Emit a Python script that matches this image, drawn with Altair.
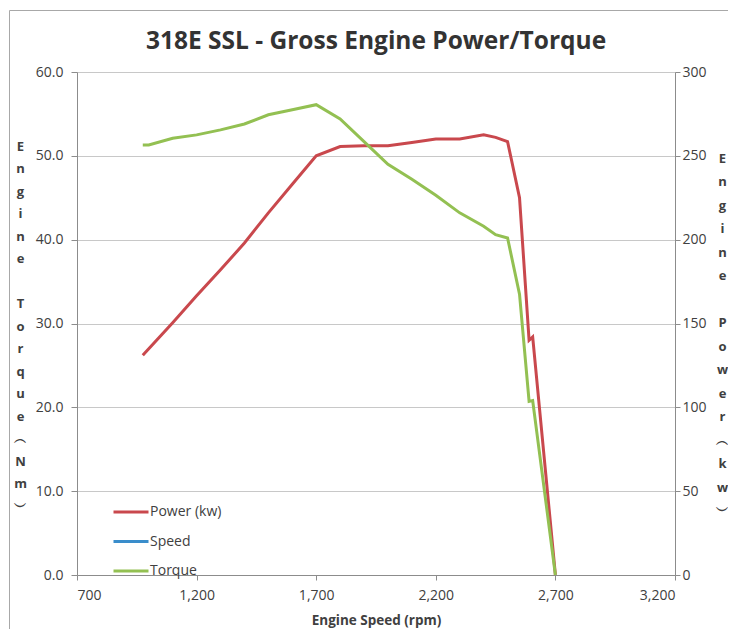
import altair as alt
import pandas as pd

# ---- data ----
power_rpm = [975, 1100, 1200, 1300, 1400, 1500, 1600, 1700, 1800, 1900, 2000,
             2100, 2200, 2300, 2400, 2450, 2500, 2550, 2590, 2605, 2700]
power_kw = [131.0, 150.5, 166.5, 182.0, 198.0, 216.0, 233.0, 250.0, 255.5, 256.0, 256.0,
            258.0, 260.0, 260.0, 262.5, 261.0, 258.5, 225.0, 140.0, 142.0, 0.0]

torque_rpm = [975, 1000, 1100, 1200, 1300, 1400, 1500, 1600, 1700, 1800, 1900, 2000,
              2100, 2200, 2300, 2400, 2450, 2500, 2550, 2590, 2605, 2700]
torque_nm = [51.3, 51.3, 52.1, 52.5, 53.1, 53.8, 54.9, 55.5, 56.1, 54.4, 51.7, 49.0,
             47.2, 45.3, 43.2, 41.6, 40.6, 40.2, 33.5, 20.7, 20.8, 0.0]

series_names = ["Power (kw)", "Speed", "Torque"]
series_colors = ["#C9484D", "#3A8DCB", "#93C052"]

x_ticks = [700, 1200, 1700, 2200, 2700, 3200]
left_ticks = [0, 10, 20, 30, 40, 50, 60]
right_ticks = [0, 50, 100, 150, 200, 250, 300]

BL = "\u2800"
left_title = ["E", "n", "g", "i", "n", "e", BL, "T", "o", "r", "q", "u", "e", "︵", "N", "m", "︶"]
right_title = ["E", "n", "g", "i", "n", "e", BL, "P", "o", "w", "e", "r", "︵", "k", "w", "︶"]

power_df = pd.DataFrame({"rpm": power_rpm, "value": power_kw, "series": series_names[0]})
torque_df = pd.DataFrame({"rpm": torque_rpm, "value": torque_nm, "series": series_names[2]})
frame_df = pd.DataFrame({"frame": [0]})

FONT = "Open Sans"
TXT = "#404040"
AXC = "#8c8c8c"

color = alt.Color(
    "series:N",
    scale=alt.Scale(domain=series_names, range=series_colors),
    legend=alt.Legend(
        title=None, orient="none", legendX=35, legendY=421,
        symbolType="stroke", symbolSize=1225, symbolStrokeWidth=3,
        labelFont=FONT, labelFontSize=14, labelColor=TXT, labelOffset=0,
        rowPadding=3.5, symbolOffset=0,
    ),
)

x = alt.X(
    "rpm:Q",
    scale=alt.Scale(domain=[700, 3200], nice=False, zero=False),
    axis=alt.Axis(
        values=x_ticks, format=",d", title="Engine Speed (rpm)", grid=False,
        labelFont=FONT, labelFontSize=14, labelColor=TXT, labelPadding=8,
        titleFont=FONT, titleFontSize=13.5, titleFontWeight="bold", titleColor=TXT, titlePadding=11,
        domainColor=AXC, tickColor=AXC, tickSize=5,
    ),
)

power = alt.Chart(power_df).mark_line(strokeWidth=3).encode(
    x=x,
    y=alt.Y(
        "value:Q",
        scale=alt.Scale(domain=[0, 300], nice=False),
        axis=alt.Axis(
            orient="right", values=right_ticks, format="d", grid=False,
            title=right_title, titleAngle=0, titleAlign="center", titleBaseline="top",
            titleX=47, titleY=80, titleLineHeight=23.5, titleFont=FONT, titleFontSize=13,
            titleFontWeight="bold", titleColor=TXT,
            labelFont=FONT, labelFontSize=14, labelColor=TXT, labelPadding=2,
            domainColor=AXC, tickColor=AXC, tickSize=5,
        ),
    ),
    color=color,
)

torque = alt.Chart(torque_df).mark_line(strokeWidth=3).encode(
    x=x,
    y=alt.Y(
        "value:Q",
        scale=alt.Scale(domain=[0, 60], nice=False),
        axis=alt.Axis(
            orient="left", values=left_ticks, format=".1f", grid=True, gridColor="#c8c8c8",
            title=left_title, titleAngle=0, titleAlign="center", titleBaseline="top",
            titleX=-57, titleY=68, titleLineHeight=22.5, titleFont=FONT, titleFontSize=13,
            titleFontWeight="bold", titleColor=TXT,
            labelFont=FONT, labelFontSize=14, labelColor=TXT, labelPadding=8,
            domainColor=AXC, tickColor=AXC, tickSize=6,
        ),
    ),
    color=color,
)

# outer chart-area border (top and left edges, as in the scanned reference)
frame_left = alt.Chart(frame_df).mark_rule(color="#a8a8a8", strokeWidth=1).encode(
    x=alt.value(-67.5), y=alt.value(-61.5), y2=alt.value(600)
)
frame_top = alt.Chart(frame_df).mark_rule(color="#a8a8a8", strokeWidth=1).encode(
    x=alt.value(-67.5), x2=alt.value(700), y=alt.value(-61.5)
)

chart = (
    alt.layer(frame_left, frame_top, power, torque)
    .resolve_scale(y="independent")
    .properties(
        width=598, height=503,
        title=alt.TitleParams(
            "318E SSL - Gross Engine Power/Torque", font=FONT, fontSize=24.5,
            fontWeight="bold", color="#333333", anchor="middle", frame="group",
            baseline="bottom", offset=22, dy=90,
        ),
        padding={"left": 69, "top": 64, "right": 53, "bottom": 54},
        autosize=alt.AutoSizeParams(type="none"),
    )
    .configure_view(stroke=None)
    .configure(background="white")
)

chart.save("out.html", embed_options={"renderer": "svg", "actions": False})
